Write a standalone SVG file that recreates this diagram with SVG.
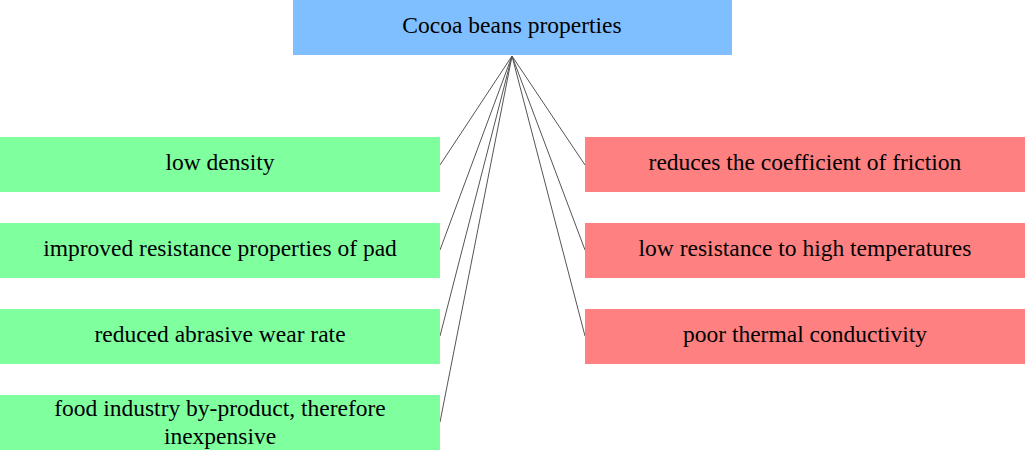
<svg xmlns="http://www.w3.org/2000/svg" width="1025" height="450" viewBox="0 0 1025 450">
<style>
.t{font-family:"Liberation Serif","Times New Roman",serif;font-size:23.5px;fill:#000;text-anchor:middle}
.g{fill:#80ff9f}
.r{fill:#ff8080}
.b{fill:#80bfff}
.c line{stroke:#555;stroke-width:1}
</style>
<rect width="1025" height="450" fill="#fff"/>
<g class="c" id="connectors">
<line x1="512" y1="56" x2="440" y2="165"/>
<line x1="512" y1="56" x2="440" y2="250"/>
<line x1="512" y1="56" x2="440" y2="336"/>
<line x1="512" y1="56" x2="440" y2="422"/>
<line x1="512" y1="56" x2="585" y2="165"/>
<line x1="512" y1="56" x2="585" y2="250"/>
<line x1="512" y1="56" x2="585" y2="336"/>
</g>
<g id="root"><rect class="b" x="293" y="0" width="439" height="55"/><text class="t" x="512" y="33">Cocoa beans properties</text></g>
<g id="n1"><rect class="g" x="0" y="137" width="440" height="55"/><text class="t" x="220" y="170">low density</text></g>
<g id="n2"><rect class="g" x="0" y="223" width="440" height="55"/><text class="t" x="220" y="256">improved resistance properties of pad</text></g>
<g id="n3"><rect class="g" x="0" y="309" width="440" height="55"/><text class="t" x="220" y="342">reduced abrasive wear rate</text></g>
<g id="n4"><rect class="g" x="0" y="395" width="440" height="55"/><text class="t" x="220" y="416">food industry by-product, therefore</text><text class="t" x="220" y="444">inexpensive</text></g>
<g id="n5"><rect class="r" x="585" y="137" width="440" height="55"/><text class="t" x="805" y="170">reduces the coefficient of friction</text></g>
<g id="n6"><rect class="r" x="585" y="223" width="440" height="55"/><text class="t" x="805" y="256">low resistance to high temperatures</text></g>
<g id="n7"><rect class="r" x="585" y="309" width="440" height="55"/><text class="t" x="805" y="342">poor thermal conductivity</text></g>
</svg>
